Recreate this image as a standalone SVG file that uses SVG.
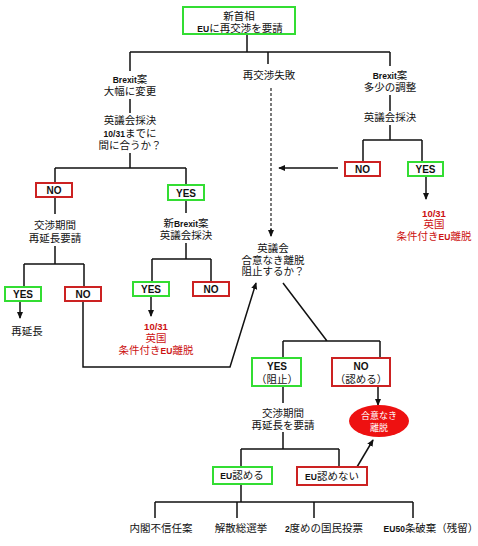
<svg xmlns="http://www.w3.org/2000/svg" width="478" height="546" viewBox="0 0 478 546">
<style>
text{font-family:"Liberation Sans","Noto Sans CJK JP",sans-serif;font-size:10.5px;fill:#111;text-anchor:middle}
.b{font-weight:bold}
.s{font-size:8.5px;font-weight:bold}
.r{fill:#cc1111}
.w{fill:#fff;font-size:9px}
.g{fill:#fff;stroke:#33dd33;stroke-width:2}
.rd{fill:#fff;stroke:#cc2222;stroke-width:2}
.ln{fill:none;stroke:#111;stroke-width:1.5}
.dash{fill:none;stroke:#333;stroke-width:1.3;stroke-dasharray:3,2}
</style>
<defs>
<marker id="ah" viewBox="0 0 8 8" refX="7" refY="4" markerWidth="7" markerHeight="7" markerUnits="userSpaceOnUse" orient="auto">
<path d="M0,0.5 L8,4 L0,7.5 Z" fill="#111"/>
</marker>
</defs>
<rect width="478" height="546" fill="#fff"/>

<g id="connectors">
<path class="ln" d="M247,34 V52 M130,52 H390 M130,52 V71 M268,52 V64 M390,52 V66"/>
<path class="ln" d="M130,99 V113 M130,153 V168 M55,168 H186 M55,168 V183 M186,168 V185"/>
<path class="ln" d="M55,197 V214 M55,246 V264 M24,264 H84 M24,264 V287 M84,264 V287"/>
<path class="ln" d="M20,301 V318" marker-end="url(#ah)"/>
<path class="ln" d="M83,301 V367 H230 L256,283" marker-end="url(#ah)"/>
<path class="ln" d="M186,201 V213 M186,243 V259 M152,259 H211 M152,259 V282 M211,259 V282"/>
<path class="ln" d="M151,296 V316" marker-end="url(#ah)"/>
<path class="ln" d="M390,95 V111 M390,125 V140 M363,140 H422 M363,140 V162 M422,140 V162"/>
<path class="ln" d="M338,168 H279" marker-end="url(#ah)"/>
<path class="ln" d="M426,176 V199" marker-end="url(#ah)"/>
<path class="dash" d="M271,88 V230"/>
<path class="ln" d="M271,229 V236" marker-end="url(#ah)"/>
<path class="ln" d="M283,283 L327,341 M283,341 H380 M283,341 V358 M380,341 V358"/>
<path class="ln" d="M378,386 V405" marker-end="url(#ah)"/>
<path class="ln" d="M283,386 V403 M283,432 V449 M241,449 H339 M241,449 V467 M339,449 V467"/>
<path class="ln" d="M357,467 L373,440" marker-end="url(#ah)"/>
<path class="ln" d="M241,484 V502 M155,502 H413 M155,502 V518 M237,502 V518 M314,502 V518 M413,502 V518"/>
</g>

<g id="n-top">
<rect class="g" x="183" y="7" width="112" height="27"/>
<text x="239" y="20">新首相</text>
<text x="240" y="32"><tspan class="s">EU</tspan>に再交渉を要請</text>
</g>

<g id="n-left-brexit">
<text x="130" y="83"><tspan class="s">Brexit</tspan>案</text>
<text x="130" y="95">大幅に変更</text>
</g>
<g id="n-left-vote">
<text x="130" y="124">英議会採決</text>
<text x="130" y="137"><tspan class="s">10/31</tspan>までに</text>
<text x="130" y="149">間に合うか？</text>
</g>
<g id="n-no1">
<rect class="rd" x="36" y="183" width="36" height="14"/>
<text class="b" x="54" y="194" style="font-size:10px">NO</text>
</g>
<g id="n-yes1">
<rect class="g" x="168" y="185" width="36" height="15"/>
<text class="b" x="186" y="197" style="font-size:10px">YES</text>
</g>
<g id="n-extend-req">
<text x="55" y="229">交渉期間</text>
<text x="55" y="242">再延長要請</text>
</g>
<g id="n-yes2">
<rect class="g" x="5" y="287" width="36" height="14"/>
<text class="b" x="23" y="298" style="font-size:10px">YES</text>
</g>
<g id="n-no2">
<rect class="rd" x="65" y="287" width="36" height="14"/>
<text class="b" x="83" y="298" style="font-size:10px">NO</text>
</g>
<g id="n-reext">
<text x="27" y="335">再延長</text>
</g>
<g id="n-newbrexit">
<text x="186" y="227">新<tspan class="s">Brexit</tspan>案</text>
<text x="186" y="239">英議会採決</text>
</g>
<g id="n-yes3">
<rect class="g" x="133" y="282" width="36" height="14"/>
<text class="b" x="151" y="293" style="font-size:10px">YES</text>
</g>
<g id="n-no3">
<rect class="rd" x="193" y="282" width="36" height="14"/>
<text class="b" x="211" y="293" style="font-size:10px">NO</text>
</g>
<g id="n-leave1">
<text class="r b" x="156" y="330" style="font-size:9.5px">10/31</text>
<text class="r" x="156" y="342">英国</text>
<text class="r" x="156" y="354">条件付き<tspan class="s r">EU</tspan>離脱</text>
</g>

<g id="n-renego-fail">
<text x="269" y="79">再交渉失敗</text>
</g>

<g id="n-right-brexit">
<text x="390" y="79"><tspan class="s">Brexit</tspan>案</text>
<text x="390" y="91">多少の調整</text>
</g>
<g id="n-right-vote">
<text x="390" y="121">英議会採決</text>
</g>
<g id="n-no4">
<rect class="rd" x="345" y="162" width="35" height="14"/>
<text class="b" x="362.5" y="173" style="font-size:10px">NO</text>
</g>
<g id="n-yes4">
<rect class="g" x="408" y="162" width="35" height="14"/>
<text class="b" x="425.5" y="173" style="font-size:10px">YES</text>
</g>
<g id="n-leave2">
<text class="r b" x="434" y="217" style="font-size:9.5px">10/31</text>
<text class="r" x="434" y="228">英国</text>
<text class="r" x="434" y="240">条件付き<tspan class="s r">EU</tspan>離脱</text>
</g>

<g id="n-block">
<text x="273" y="252">英議会</text>
<text x="273" y="264">合意なき離脱</text>
<text x="273" y="275">阻止するか？</text>
</g>
<g id="n-yes-block">
<rect class="g" x="252" y="358" width="49" height="28"/>
<text class="b" x="277" y="370" style="font-size:10px">YES</text>
<text x="277" y="383">（阻止）</text>
</g>
<g id="n-no-accept">
<rect class="rd" x="332" y="358" width="58" height="28"/>
<text class="b" x="361" y="370" style="font-size:10px">NO</text>
<text x="361" y="383">（認める）</text>
</g>
<g id="n-nodeal">
<ellipse cx="379" cy="421" rx="30" ry="16" fill="#ee1111"/>
<text class="w" x="379" y="419">合意なき</text>
<text class="w" x="379" y="431">離脱</text>
</g>
<g id="n-extend2">
<text x="283" y="417">交渉期間</text>
<text x="283" y="429">再延長を要請</text>
</g>
<g id="n-eu-ok">
<rect class="g" x="213" y="467" width="59" height="17"/>
<text x="242" y="479"><tspan class="s">EU</tspan>認める</text>
</g>
<g id="n-eu-ng">
<rect class="rd" x="297" y="467" width="70" height="18"/>
<text x="332" y="480"><tspan class="s">EU</tspan>認めない</text>
</g>
<g id="n-opt1"><text x="161" y="532">内閣不信任案</text></g>
<g id="n-opt2"><text x="241" y="532">解散総選挙</text></g>
<g id="n-opt3"><text x="324" y="532"><tspan class="s">2</tspan>度めの国民投票</text></g>
<g id="n-opt4"><text x="431" y="532"><tspan class="s">EU50</tspan>条破棄（残留）</text></g>
</svg>
